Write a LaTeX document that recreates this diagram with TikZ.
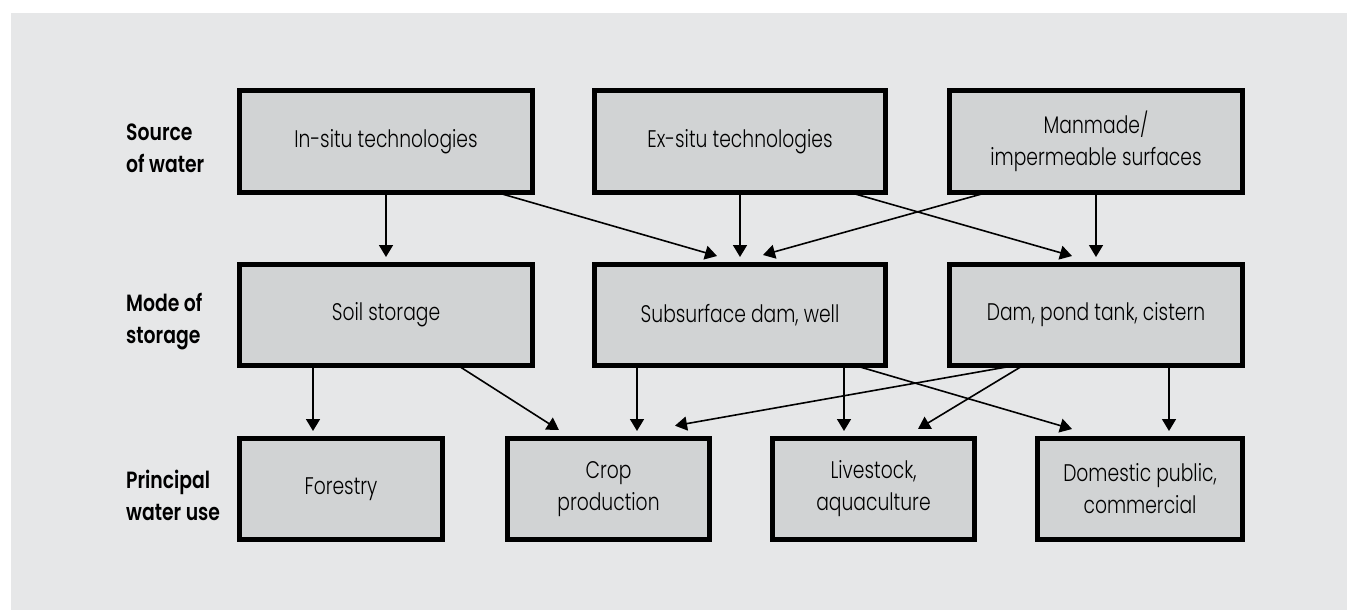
\documentclass[tikz,border=0pt]{standalone}
\usepackage{fontspec}
\setmainfont{Poppins}
\newfontfamily\boxfont{Poppins Light}[FakeStretch=0.78]
\newfontfamily\labfont{Poppins SemiBold}[FakeStretch=0.8]
\usetikzlibrary{arrows.meta,calc}
\definecolor{bgc}{RGB}{230,231,232}
\definecolor{boxc}{RGB}{209,211,212}
\begin{document}
\begin{tikzpicture}[x=1pt,y=-1pt,
  box/.style={draw=black,fill=boxc,line width=5pt,minimum width=#1,
    inner sep=0pt,outer sep=0pt,align=center,
    font=\boxfont\fontsize{24}{32}\selectfont},
  toprow/.style={box=#1,minimum height=102pt},
  midrow/.style={box=#1,minimum height=101pt},
  botrow/.style={box=#1,minimum height=101pt},
  rowlabel/.style={anchor=west,align=left,inner sep=0pt,
    font=\labfont\fontsize{23.5}{32}\selectfont},
  arr/.style={line width=1.6pt,-{Triangle[width=14pt,length=12pt]}}]
\useasboundingbox (0,0) rectangle (1347,611);
\fill[white] (0,0) rectangle (1347,611);
\fill[bgc] (11,13) rectangle (1347,610);

% row labels
\node[rowlabel] (lsrc) at (126,148) {Source\\of water};
\node[rowlabel] (lmode) at (126,322) {Mode of\\storage};
\node[rowlabel] (luse) at (126,495) {Principal\\water use};

% top row
\node[toprow=293pt] (insitu) at (386,141.5) {In-situ technologies};
\node[toprow=291pt] (exsitu) at (740,141.5) {Ex-situ technologies};
\node[toprow=293pt] (manmade) at (1096,141.5) {Manmade/\\impermeable surfaces};

% middle row
\node[midrow=293pt] (soil) at (386,315) {Soil storage};
\node[midrow=291pt] (subsurf) at (740,315) {Subsurface dam, well};
\node[midrow=293pt] (dam) at (1096,315) {Dam, pond tank, cistern};

% bottom row
\node[botrow=203pt] (forestry) at (341,489) {Forestry};
\node[botrow=202pt] (crop) at (608.5,489) {Crop\\production};
\node[botrow=202pt] (livestock) at (873.5,489) {Livestock,\\aquaculture};
\node[botrow=205pt] (domestic) at (1140,489) {Domestic public,\\commercial};

% source -> storage
\draw[arr] (insitu.south) -- ($(soil.north)+(0,-7.5)$);
\draw[arr] (insitu.south -| 497,0) -- ($(subsurf.north -| 717,0)+(0,-8.5)$);
\draw[arr] (exsitu.south) -- ($(subsurf.north)+(0,-7.5)$);
\draw[arr] (exsitu.south -| 850,0) -- ($(dam.north -| 1072,0)+(0,-8.5)$);
\draw[arr] (manmade.south -| 987,0) -- ($(subsurf.north -| 763,0)+(0,-9.5)$);
\draw[arr] (manmade.south) -- ($(dam.north)+(0,-7.5)$);

% storage -> use
\draw[arr] (soil.south -| 313,0) -- ($(forestry.north -| 313,0)+(0,-7.5)$);
\draw[arr] (soil.south -| 458,0) -- ($(crop.north -| 559,0)+(0,-8.5)$);
\draw[arr] (subsurf.south -| 637,0) -- ($(crop.north -| 637,0)+(0,-7.5)$);
\draw[arr] (subsurf.south -| 844,0) -- ($(livestock.north -| 844,0)+(0,-7.5)$);
\draw[arr] (subsurf.south -| 855,0) -- ($(domestic.north -| 1072,0)+(0,-9.5)$);
\draw[arr] (dam.south -| 1015,0) -- ($(crop.north -| 675,0)+(0,-12.8)$);
\draw[arr] (dam.south -| 1023,0) -- ($(livestock.north -| 918,0)+(0,-9.5)$);
\draw[arr] (dam.south -| 1169,0) -- ($(domestic.north -| 1169,0)+(0,-7.5)$);
\end{tikzpicture}
\end{document}
